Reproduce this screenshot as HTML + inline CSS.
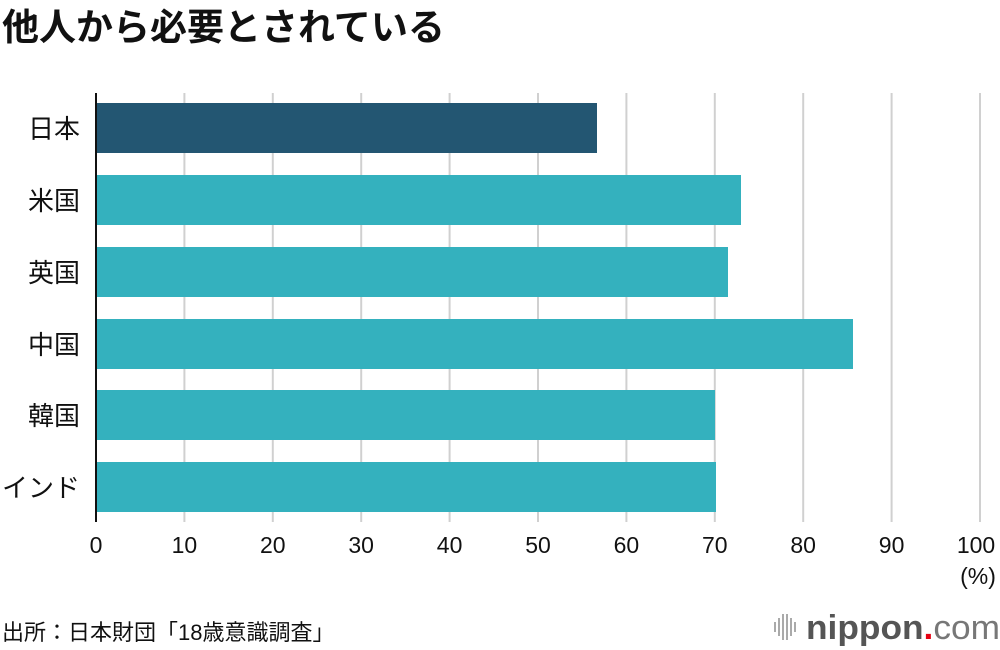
<!DOCTYPE html>
<html><head><meta charset="utf-8"><style>
html,body{margin:0;padding:0;background:#fff;}
svg{display:block;font-family:"Liberation Sans","Noto Sans CJK JP",sans-serif;}
</style></head><body>
<svg width="1000" height="650" xmlns="http://www.w3.org/2000/svg">
<text x="2" y="40" font-size="37" font-weight="bold" fill="#111">他人から必要とされている</text>
<g stroke="#d0d0d0" stroke-width="2">
<line x1="184.4" y1="93" x2="184.4" y2="522"/>
<line x1="272.8" y1="93" x2="272.8" y2="522"/>
<line x1="361.2" y1="93" x2="361.2" y2="522"/>
<line x1="449.6" y1="93" x2="449.6" y2="522"/>
<line x1="538" y1="93" x2="538" y2="522"/>
<line x1="626.4" y1="93" x2="626.4" y2="522"/>
<line x1="714.8" y1="93" x2="714.8" y2="522"/>
<line x1="803.2" y1="93" x2="803.2" y2="522"/>
<line x1="891.6" y1="93" x2="891.6" y2="522"/>
<line x1="980" y1="93" x2="980" y2="522"/>
</g>
<rect x="96" y="103" width="501" height="50" fill="#235672"/>
<rect x="96" y="175" width="645" height="50" fill="#34b1be"/>
<rect x="96" y="247" width="632" height="50" fill="#34b1be"/>
<rect x="96" y="319" width="757" height="50" fill="#34b1be"/>
<rect x="96" y="390" width="619" height="50" fill="#34b1be"/>
<rect x="96" y="462" width="620" height="50" fill="#34b1be"/>
<line x1="96" y1="93" x2="96" y2="522" stroke="#111" stroke-width="2"/>
<g font-size="26" fill="#111" text-anchor="end">
<text x="80" y="138">日本</text>
<text x="80" y="210">米国</text>
<text x="80" y="282">英国</text>
<text x="80" y="354">中国</text>
<text x="80" y="425">韓国</text>
<text x="80" y="497">インド</text>
</g>
<g font-size="23" fill="#111" text-anchor="middle">
<text x="96" y="553">0</text>
<text x="184.4" y="553">10</text>
<text x="272.8" y="553">20</text>
<text x="361.2" y="553">30</text>
<text x="449.6" y="553">40</text>
<text x="538" y="553">50</text>
<text x="626.4" y="553">60</text>
<text x="714.8" y="553">70</text>
<text x="803.2" y="553">80</text>
<text x="891.6" y="553">90</text>
<text x="976" y="553">100</text>
<text x="978" y="584">(%)</text>
</g>
<text x="2" y="640" font-size="22" fill="#111">出所：日本財団「18歳意識調査」</text>
<g stroke="#aaa" stroke-width="2">
<line x1="775" y1="622" x2="775" y2="632"/>
<line x1="779" y1="618" x2="779" y2="636"/>
<line x1="783" y1="614" x2="783" y2="640"/>
<line x1="787" y1="614" x2="787" y2="640"/>
<line x1="791" y1="618" x2="791" y2="636"/>
<line x1="795" y1="622" x2="795" y2="632"/>
</g>
<text x="806" y="639" font-size="34" fill="#555" font-weight="bold" textLength="194" lengthAdjust="spacingAndGlyphs">nippon<tspan fill="#e60012">.</tspan><tspan font-weight="normal" fill="#777">com</tspan></text>
</svg>
</body></html>
